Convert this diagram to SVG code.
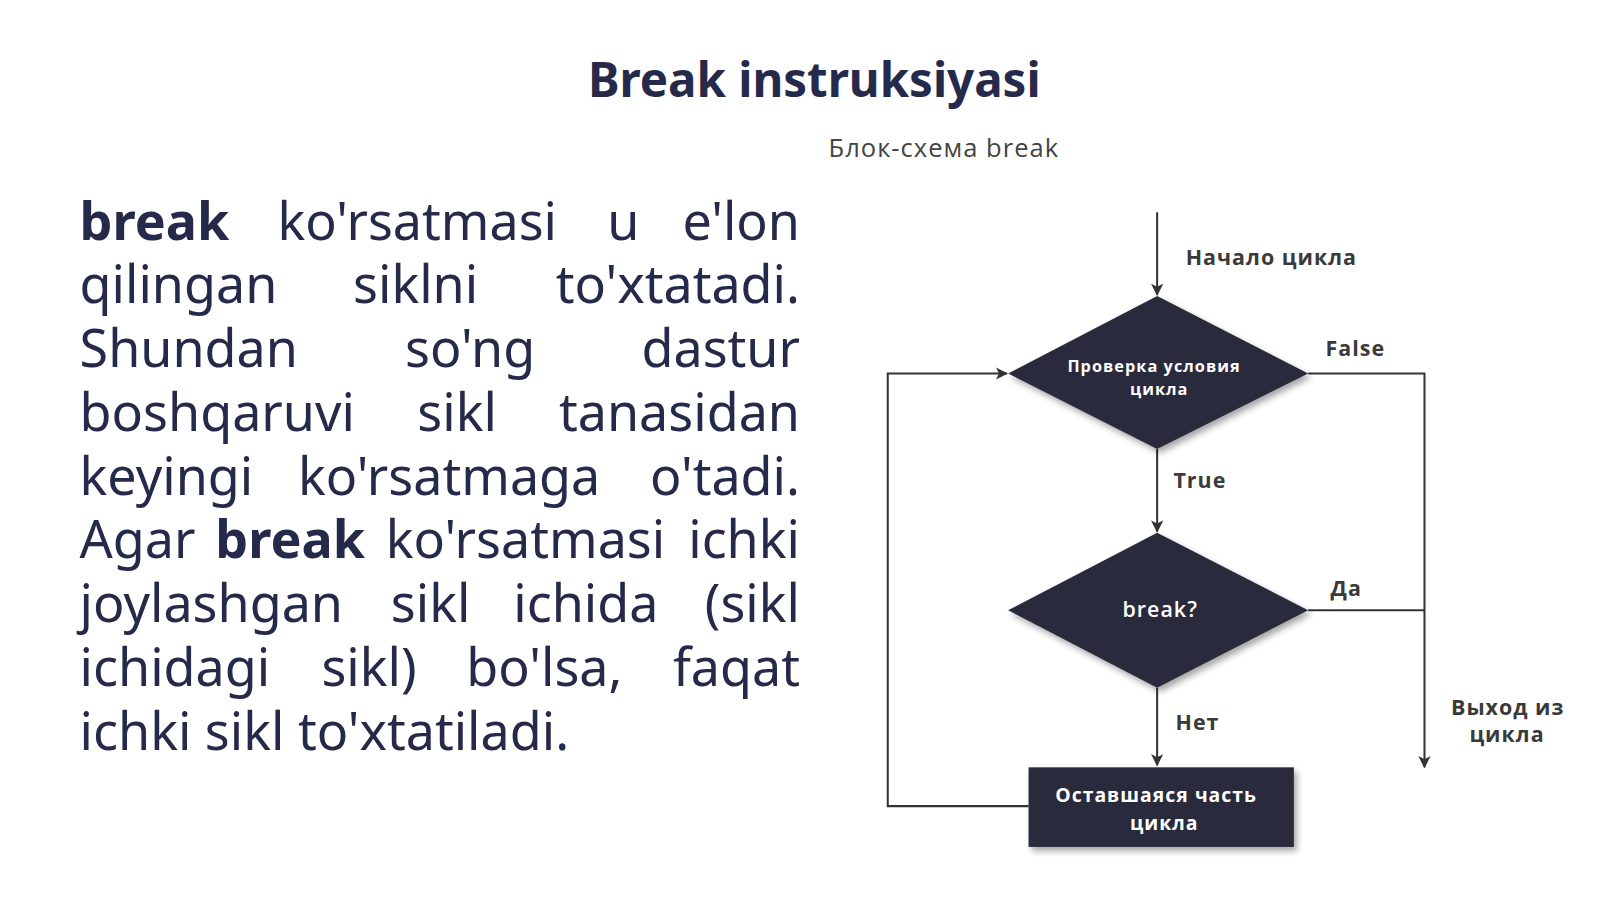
<svg xmlns="http://www.w3.org/2000/svg" width="1600" height="899" viewBox="0 0 1600 899">
<style>
.t{font-family:"Noto Sans","Open Sans",sans-serif;font-size:51px;fill:#262a4a}
.b{font-weight:bold}
.lbl{font-family:"Open Sans","Noto Sans",sans-serif;font-size:21px;font-weight:bold;fill:#3a3a3a;letter-spacing:1px}
.in{font-family:"Open Sans","Noto Sans",sans-serif;font-weight:bold;fill:#fff;text-anchor:middle;letter-spacing:1px}
.shape{fill:#2a2c3c}
.ln{stroke:#333;stroke-width:2;fill:none}
</style>
<defs>
<marker id="ah" markerWidth="12" markerHeight="12" refX="11" refY="6" orient="auto" markerUnits="userSpaceOnUse"><path d="M0,0 L12,6 L0,12 L3,6 Z" fill="#333"/></marker>
<filter id="sh" x="-10%" y="-10%" width="130%" height="130%"><feDropShadow dx="3" dy="4" stdDeviation="3" flood-opacity="0.35"/></filter>
</defs>
<rect width="1600" height="899" fill="#fff"/>
<g transform="scale(1.0204)">
<text x="798" y="95" text-anchor="middle" font-family="Noto Sans,Open Sans,sans-serif" font-size="46.5" font-weight="bold" fill="#262a4a">Break instruksiyasi</text>
<text x="812" y="154" font-family="Open Sans,Noto Sans,sans-serif" font-size="25" letter-spacing="1" fill="#444">Блок-схема break</text>
<g id="body" class="t">
<text y="235"><tspan x="78" class="b">break</tspan><tspan x="272">ko'rsatmasi</tspan><tspan x="595">u</tspan></text><text y="235" x="784" text-anchor="end" class="t">e'lon</text>
<text y="297"><tspan x="78">qilingan</tspan><tspan x="346">siklni</tspan></text><text y="297" x="784" text-anchor="end" class="t">to'xtatadi.</text>
<text y="360"><tspan x="78">Shundan</tspan><tspan x="397">so'ng</tspan></text><text y="360" x="784" text-anchor="end" class="t">dastur</text>
<text y="422"><tspan x="78">boshqaruvi</tspan><tspan x="409">sikl</tspan></text><text y="422" x="784" text-anchor="end" class="t">tanasidan</text>
<text y="485"><tspan x="78">keyingi</tspan><tspan x="292">ko'rsatmaga</tspan></text><text y="485" x="784" text-anchor="end" class="t">o'tadi.</text>
<text y="547"><tspan x="78">Agar</tspan><tspan x="211" class="b">break</tspan><tspan x="378">ko'rsatmasi</tspan></text><text y="547" x="784" text-anchor="end" class="t">ichki</text>
<text y="610"><tspan x="78">joylashgan</tspan><tspan x="383">sikl</tspan><tspan x="503">ichida</tspan></text><text y="610" x="784" text-anchor="end" class="t">(sikl</text>
<text y="672"><tspan x="78">ichidagi</tspan><tspan x="315">sikl)</tspan><tspan x="457">bo'lsa,</tspan></text><text y="672" x="784" text-anchor="end" class="t">faqat</text>
<text y="735" x="78">ichki sikl to'xtatiladi.</text>
</g>
<g id="connectors" class="ln">
<line x1="1134" y1="208" x2="1134" y2="289" marker-end="url(#ah)"/>
<line x1="1134" y1="440" x2="1134" y2="521" marker-end="url(#ah)"/>
<line x1="1134" y1="674" x2="1134" y2="750" marker-end="url(#ah)"/>
<polyline points="1282,366 1396,366 1396,752" marker-end="url(#ah)"/>
<line x1="1282" y1="598" x2="1396" y2="598"/>
<polyline points="1008,790 870,790 870,366 987,366" marker-end="url(#ah)"/>
</g>
<g id="cond">
<polygon class="shape" filter="url(#sh)" points="1134,290 1282,366 1134,440 988,366"/>
<text class="in" font-size="16" x="1131" y="365">Проверка условия</text>
<text class="in" font-size="16" x="1136" y="387">цикла</text>
</g>
<g id="brk">
<polygon class="shape" filter="url(#sh)" points="1134,522 1282,598 1134,674 988,598"/>
<text class="in" font-size="21" x="1137" y="605" style="font-weight:600">break?</text>
</g>
<g id="rest">
<rect class="shape" filter="url(#sh)" x="1008" y="752" width="260" height="78"/>
<text class="in" font-size="19" x="1133" y="786">Оставшаяся часть</text>
<text class="in" font-size="19" x="1141" y="813">цикла</text>
</g>
<g id="labels">
<text class="lbl" x="1162" y="260">Начало цикла</text>
<text class="lbl" x="1299" y="349">False</text>
<text class="lbl" x="1150" y="478">True</text>
<text class="lbl" x="1304" y="584">Да</text>
<text class="lbl" x="1152" y="715">Нет</text>
<text class="lbl" x="1422" y="701">Выход из</text>
<text class="lbl" x="1440" y="727">цикла</text>
</g>
</g>
</svg>
